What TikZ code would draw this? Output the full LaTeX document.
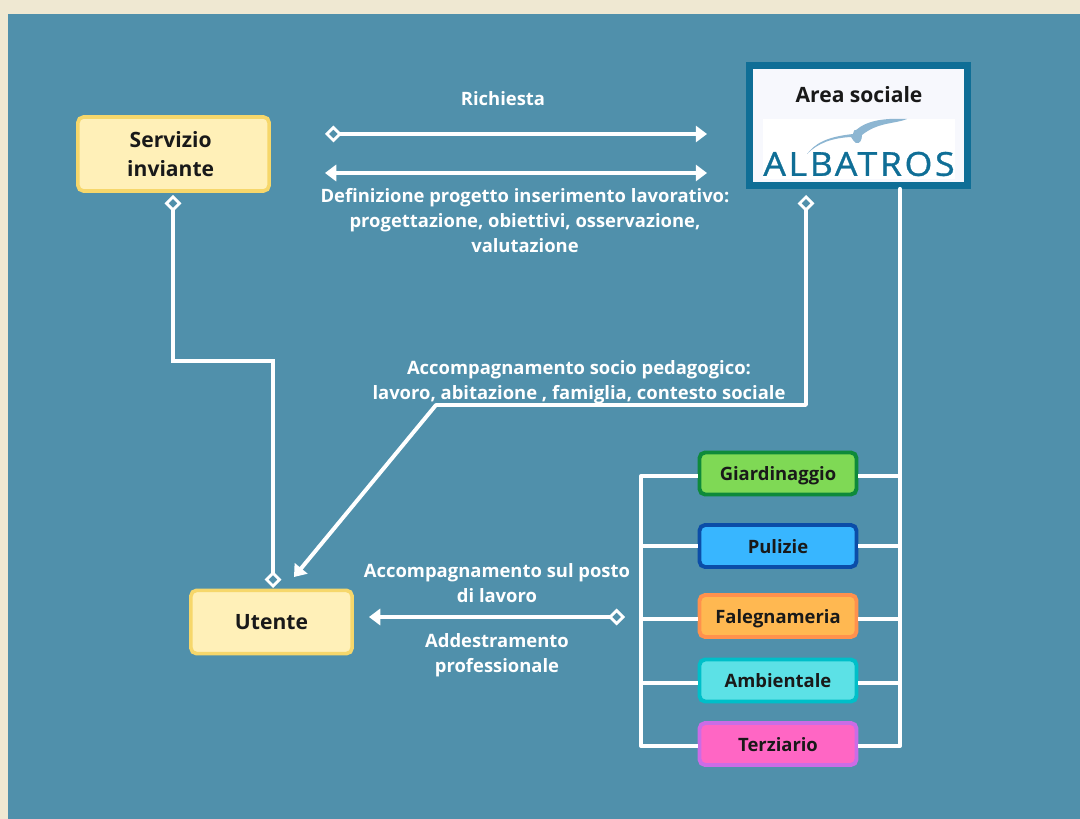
\documentclass[tikz,border=0pt]{standalone}
\usepackage{xcolor}
\usepackage{fontspec}
\setmainfont{Open Sans}
\newfontfamily\logofont[LetterSpace=8,FakeStretch=1.08,FakeBold=1]{Open Sans}
\usepackage{tikz}
\usetikzlibrary{arrows.meta}
\definecolor{cream}{HTML}{EFE8D2}
\definecolor{teal}{HTML}{5090AB}
\definecolor{logoblue}{HTML}{0F6E96}
\definecolor{birdblue}{HTML}{8DB6D2}
\definecolor{sandfill}{HTML}{FFF0B8}
\definecolor{sandline}{HTML}{F6D76B}
\definecolor{greenfill}{HTML}{7FD955}
\definecolor{greenline}{HTML}{0E8A3A}
\definecolor{bluefill}{HTML}{38B6FF}
\definecolor{blueline}{HTML}{0B4DA8}
\definecolor{orangefill}{HTML}{FFB851}
\definecolor{orangeline}{HTML}{FF914D}
\definecolor{cyanfill}{HTML}{5CE1E6}
\definecolor{cyanline}{HTML}{00BFC9}
\definecolor{pinkfill}{HTML}{FF66C4}
\definecolor{pinkline}{HTML}{CB6CE6}
\definecolor{areafill}{HTML}{F7F8FD}
\tikzset{
    box/.style={draw,rounded corners=4pt,align=center,font=\bfseries\fontsize{15}{20.5}\selectfont,text=black!90},
    yellowbox/.style={box,fill=sandfill,draw=sandline,line width=2.6pt},
    workbox/.style={box,minimum width=3.925cm,minimum height=1.05cm,line width=2.8pt,text height=10.5pt,text depth=0pt,font=\bfseries\fontsize{13.1}{15}\selectfont},
    caption/.style={align=center,text=white,font=\bfseries\fontsize{13.1}{18}\selectfont},
    link/.style={draw=white,line width=2.8pt},
    ring/.tip={Diamond[length=12pt,width=12pt,open,fill=teal,line width=2pt]},
    head/.tip={Triangle[length=8pt,width=11.5pt]}
}
\begin{document}
\begin{tikzpicture}[x=0.025cm,y=-0.025cm]
    \useasboundingbox (0,0) rectangle (1080,819);
    \fill[cream] (0,0) rectangle (1080,819);
    \fill[teal] (8,14) rectangle (1080,819);
    \node[yellowbox,minimum width=4.78cm,minimum height=1.85cm] (servizio) at (173.5,154) {Servizio\hspace*{4pt}\\inviante\hspace*{4pt}};
    \node[yellowbox,minimum width=4.03cm,minimum height=1.58cm] (utente) at (271.5,622) {Utente};
    \node[draw=logoblue,fill=areafill,line width=4.8pt,minimum width=5.45cm,minimum height=3cm] (area) at (858.5,125.5) {};
    \node[fill=white,minimum width=4.8cm,minimum height=1.5cm] (logo) at (859,149) {};
    \node[font=\bfseries\fontsize{15}{17}\selectfont,text=black!90] (arealabel) at (859,94.5) {Area sociale};
    \fill[birdblue] (807,154) .. controls (815,144) and (825,137) .. (853,134) .. controls (854,130) and (855,129) .. (856,130) .. controls (868,120) and (885,118) .. (907,119) .. controls (895,124) and (878,122) .. (862,135) .. controls (862,140) and (860,144) .. (856,143) .. controls (853,141) and (852,138) .. (851,137) .. controls (832,138) and (818,143) .. (807,154);
    \node[font=\logofont\fontsize{23.5}{24}\selectfont,text=logoblue,inner sep=0pt] (albatros) at (859,164) {ALBATROS};
    \node[workbox,fill=greenfill,draw=greenline] (giardinaggio) at (778,473.5) {Giardinaggio};
    \node[workbox,fill=bluefill,draw=blueline] (pulizie) at (778,546) {Pulizie};
    \node[workbox,fill=orangefill,draw=orangeline] (falegnameria) at (778,616) {Falegnameria};
    \node[workbox,fill=cyanfill,draw=cyanline] (ambientale) at (778,680.5) {Ambientale};
    \node[workbox,fill=pinkfill,draw=pinkline] (terziario) at (778,744) {Terziario};
    \node[caption] (richiesta) at (503,99) {Richiesta};
    \node[caption] (definizione) at (525,220.5) {Definizione progetto inserimento lavorativo:\\progettazione, obiettivi, osservazione,\\valutazione};
    \node[caption] (socio) at (579,382) {Accompagnamento socio pedagogico:\\lavoro, abitazione , famiglia, contesto sociale};
    \node[caption] (posto) at (497,583) {Accompagnamento sul posto\\di lavoro};
    \node[caption] (addestramento) at (497,655.5) {Addestramento\\professionale};
    \coordinate (richiestaA) at (325,134);
    \coordinate (richiestaB) at (707,134);
    \coordinate (progettoA) at (325,173);
    \coordinate (progettoB) at (707,173);
    \coordinate (servizioDown) at (173,195);
    \coordinate (servizioBend) at (273,361);
    \coordinate (utenteTop) at (273,588);
    \coordinate (areaDown) at (806,195);
    \coordinate (areaBend) at (806,405);
    \coordinate (socioBend) at (436,405);
    \coordinate (utenteTip) at (294,577);
    \coordinate (lavoroA) at (625,617);
    \coordinate (lavoroB) at (369,617);
    \coordinate (leftTop) at (641,476);
    \coordinate (leftA) at (641,546);
    \coordinate (leftB) at (641,619);
    \coordinate (leftC) at (641,683);
    \coordinate (leftD) at (641,746);
    \coordinate (rightA) at (900,476);
    \coordinate (rightB) at (900,546);
    \coordinate (rightC) at (900,619);
    \coordinate (rightD) at (900,683);
    \coordinate (rightE) at (900,746);
    \draw[link,{ring}-{head}] (richiestaA) to (richiestaB);
    \draw[link,{head}-{head}] (progettoA) to (progettoB);
    \draw[link,{ring}-{ring}] (servizioDown) |- (servizioBend) -- (utenteTop);
    \draw[link,{ring}-{head},line join=round] (areaDown) -- (areaBend) -- (socioBend) -- (utenteTip);
    \draw[link,{ring}-{head}] (lavoroA) to (lavoroB);
    \draw[link,line cap=round] (leftTop) -- (leftD);
    \draw[link,line cap=round] (rightE |- area.south) -- (rightE);
    \draw[link] (leftTop) to (giardinaggio.west |- leftTop);
    \draw[link] (leftA) to (pulizie.west |- leftA);
    \draw[link] (leftB) to (falegnameria.west |- leftB);
    \draw[link] (leftC) to (ambientale.west |- leftC);
    \draw[link] (leftD) to (terziario.west |- leftD);
    \draw[link] (giardinaggio.east |- rightA) to (rightA);
    \draw[link] (pulizie.east |- rightB) to (rightB);
    \draw[link] (falegnameria.east |- rightC) to (rightC);
    \draw[link] (ambientale.east |- rightD) to (rightD);
    \draw[link] (terziario.east |- rightE) to (rightE);
\end{tikzpicture}
\end{document}
